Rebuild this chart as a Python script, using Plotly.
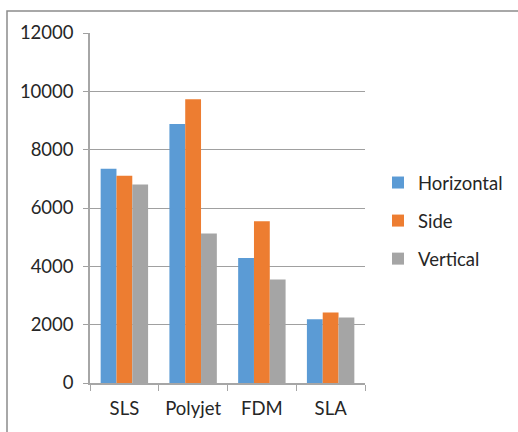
import plotly.graph_objects as go

# Build orientation comparison by process
categories = ["SLS", "Polyjet", "FDM", "SLA"]
horizontal = [7350, 8880, 4290, 2190]
side = [7110, 9730, 5550, 2420]
vertical = [6810, 5130, 3550, 2250]
y_ticks = [0, 2000, 4000, 6000, 8000, 10000, 12000]
y_tick_text = ["0", "2000", "4000", "6000", "8000", "10000", "12000"]

series = [
    ("Horizontal", horizontal, "#5B9BD5"),
    ("Side", side, "#ED7D31"),
    ("Vertical", vertical, "#A5A5A5"),
]

fig = go.Figure()
for i, (name, vals, color) in enumerate(series):
    fig.add_trace(go.Bar(
        name=name, x=categories, y=vals,
        marker=dict(color=color, line=dict(width=0)),
        legendgroup=f"g{i}",
    ))

W, H = 518, 432
L, R, T, B = 90, 153, 33, 49
pw, ph = W - L - R, H - T - B

def px_x(p):
    return (p - L) / pw

def px_y(p):
    return (H - B - p) / ph

fig.update_layout(
    width=W, height=H,
    margin=dict(l=L, r=R, t=T, b=B, autoexpand=False),
    paper_bgcolor="white", plot_bgcolor="white",
    barmode="group", bargap=0.31, bargroupgap=0,
    font=dict(family="Lato, Open Sans, sans-serif", size=18.5, color="#262626"),
    showlegend=True,
    legend=dict(
        x=px_x(378), y=px_y(164), xanchor="left", yanchor="top",
        font=dict(size=18.5, color="#262626"),
        tracegroupgap=11, itemwidth=30,
        bgcolor="rgba(0,0,0,0)",
    ),
    xaxis=dict(
        showline=True, linecolor="#A6A6A6", linewidth=1.5,
        ticks="outside", tickson="boundaries", ticklen=6,
        tickcolor="#A6A6A6", showgrid=False, fixedrange=True,
        ticklabelstandoff=8,
    ),
    yaxis=dict(
        range=[0, 12000], tickvals=y_ticks, ticktext=y_tick_text,
        showline=True, linecolor="#A6A6A6", linewidth=1.5,
        showgrid=True, gridcolor="#A0A0A0", gridwidth=1.2,
        ticks="outside", ticklen=5, tickcolor="#A0A0A0",
        zeroline=False, fixedrange=True, ticklabelstandoff=6,
    ),
    shapes=[dict(
        type="rect", xref="paper", yref="paper",
        x0=px_x(7), x1=px_x(540), y0=px_y(460), y1=px_y(11),
        line=dict(color="#8C8C8C", width=1.5),
        fillcolor="rgba(0,0,0,0)", layer="below",
    )],
)

fig.write_html("out.html")
